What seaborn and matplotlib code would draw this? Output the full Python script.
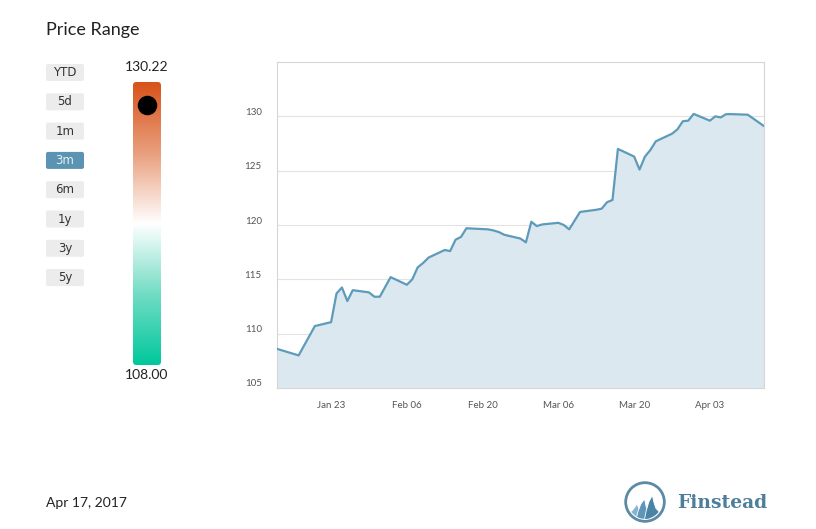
import matplotlib
matplotlib.use("Agg")
import numpy as np
import pandas as pd
import matplotlib.pyplot as plt
import matplotlib.dates as mdates
import matplotlib.transforms as mtransforms
from matplotlib.colors import LinearSegmentedColormap
from matplotlib.patches import FancyBboxPatch, Circle, Polygon
import seaborn as sns

# trading days shown in the 3m view
dates = pd.to_datetime([
    "2017-01-13", "2017-01-17", "2017-01-18", "2017-01-19", "2017-01-20",
    "2017-01-23", "2017-01-24", "2017-01-25", "2017-01-26", "2017-01-27",
    "2017-01-30", "2017-01-31", "2017-02-01", "2017-02-02", "2017-02-03",
    "2017-02-06", "2017-02-07", "2017-02-08", "2017-02-09", "2017-02-10",
    "2017-02-13", "2017-02-14", "2017-02-15", "2017-02-16", "2017-02-17",
    "2017-02-21", "2017-02-22", "2017-02-23", "2017-02-24", "2017-02-27",
    "2017-02-28", "2017-03-01", "2017-03-02", "2017-03-03", "2017-03-06",
    "2017-03-07", "2017-03-08", "2017-03-09", "2017-03-10", "2017-03-13",
    "2017-03-14", "2017-03-15", "2017-03-16", "2017-03-17", "2017-03-20",
    "2017-03-21", "2017-03-22", "2017-03-23", "2017-03-24", "2017-03-27",
    "2017-03-28", "2017-03-29", "2017-03-30", "2017-03-31", "2017-04-03",
    "2017-04-04", "2017-04-05", "2017-04-06", "2017-04-07", "2017-04-10",
    "2017-04-11", "2017-04-12", "2017-04-13",
])
prices = [
    108.6, 108.0, 108.9, 109.8, 110.7,
    111.06, 113.7, 114.25, 113.0, 114.0,
    113.8, 113.4, 113.4, 114.3, 115.2,
    114.5, 115.0, 116.1, 116.5, 117.0,
    117.7, 117.6, 118.65, 118.9, 119.7,
    119.6, 119.5, 119.35, 119.1, 118.75,
    118.4, 120.3, 119.9, 120.05, 120.2,
    120.0, 119.6, 120.4, 121.2, 121.4,
    121.5, 122.1, 122.3, 127.0, 126.3,
    125.1, 126.3, 126.9, 127.7, 128.4,
    128.8, 129.55, 129.6, 130.22, 129.6,
    130.0, 129.9, 130.2, 130.2, 130.15,
    129.8, 129.45, 129.1,
]
yticks = [105, 110, 115, 120, 125, 130]
xtick_dates = pd.to_datetime(["2017-01-23", "2017-02-06", "2017-02-20",
                              "2017-03-06", "2017-03-20", "2017-04-03"])
buttons = ["YTD", "5d", "1m", "3m", "6m", "1y", "3y", "5y"]
selected = "3m"
range_low, range_high = 108.00, 130.22
marker_value = 128.4  # where the dot sits on the range bar

df = pd.DataFrame({"date": dates, "price": prices})

sns.set_style("white")
plt.rcParams["font.family"] = ["Lato", "DejaVu Sans"]

W, H = 816, 529
fig = plt.figure(figsize=(W / 100, H / 100), dpi=100)


def px_axes(x0, y0, x1, y1):
    return fig.add_axes([x0 / W, 1 - y1 / H, (x1 - x0) / W, (y1 - y0) / H])


# main price chart
ax = px_axes(277, 62, 764, 388)
ax.fill_between(df["date"], df["price"], 105, color="#dce8ef", lw=0, zorder=1)
sns.lineplot(data=df, x="date", y="price", ax=ax, color="#5d9bba", lw=1.6, zorder=3)
ax.set_ylim(105, 135)
ax.set_xlim(df["date"].iloc[0], df["date"].iloc[-1])
ax.set_yticks(yticks)
ax.set_xticks(xtick_dates)
ax.xaxis.set_major_formatter(mdates.DateFormatter("%b %d"))
ax.set_xlabel("")
ax.set_ylabel("")
ax.grid(axis="y", color="#e3e3e3", lw=0.8, zorder=2)
for s in ax.spines.values():
    s.set_color("#d6d6d6")
    s.set_linewidth(0.8)
ax.tick_params(axis="y", length=0, pad=11, labelsize=7, labelcolor="#555555")
ax.tick_params(axis="x", length=7, width=0.8, color="#d6d6d6", direction="out",
               pad=2, labelsize=7, labelcolor="#555555")
# y labels sit a little above their grid lines
lift = mtransforms.ScaledTranslation(0, 5 / 100, fig.dpi_scale_trans)
for lab in ax.get_yticklabels():
    lab.set_transform(lab.get_transform() + lift)

# title and date
fig.text(46 / W, 1 - 30 / H, "Price Range", fontsize=13, color="#222222", va="center", ha="left")
fig.text(46 / W, 1 - 503 / H, "Apr 17, 2017", fontsize=10, color="#222222", va="center", ha="left")

# range buttons
bax = px_axes(0, 0, W, H)
bax.set_xlim(0, W)
bax.set_ylim(H, 0)
bax.axis("off")
for i, lab in enumerate(buttons):
    cy = 72.5 + i * 29.3
    sel = lab == selected
    bax.add_patch(FancyBboxPatch((46, cy - 8.5), 38, 17, boxstyle="round,pad=0,rounding_size=2",
                                 fc="#5b93b3" if sel else "#ececec", ec="none"))
    bax.text(65, cy, lab, fontsize=8.5, family="DejaVu Sans", ha="center", va="center",
             color="#e6f0f5" if sel else "#333333")

# gradient range bar
cax = px_axes(133, 82, 161, 365)
cmap = LinearSegmentedColormap.from_list(
    "rng", [(0, "#00c89c"), (0.25, "#72dcc4"), (0.5, "#ffffff"), (0.75, "#e99f7d"), (1, "#d8531a")])
grad = np.linspace(0, 1, 256).reshape(-1, 1)
im = cax.imshow(grad, aspect="auto", cmap=cmap, origin="lower",
                extent=[0, 1, range_low, range_high])
clip = FancyBboxPatch((0, range_low), 1, range_high - range_low,
                      boxstyle="round,pad=0,rounding_size=0.12", transform=cax.transData,
                      fc="none", ec="none", mutation_aspect=(range_high - range_low) / 10)
cax.add_patch(clip)
im.set_clip_path(clip)
cax.scatter([0.5], [marker_value], s=170, color="black", zorder=4)
cax.set_xlim(0, 1)
cax.set_ylim(range_low, range_high)
cax.axis("off")
fig.text(147 / W, 1 - 67 / H, f"{range_high:.2f}", fontsize=10, ha="center", va="center", color="#222222")
fig.text(147 / W, 1 - 375 / H, f"{range_low:.2f}", fontsize=10, ha="center", va="center", color="#222222")

# logo
lax = px_axes(624, 481, 666, 523)
lax.set_xlim(-1, 1)
lax.set_ylim(-1, 1)
lax.axis("off")
ring = Circle((0, 0), 0.92, fill=False, ec="#5b8aa5", lw=2)
lax.add_patch(ring)
inner = Circle((0, 0), 0.8, transform=lax.transData)
fins = [
    ([(-0.8, -0.55), (-0.6, -0.4), (-0.45, -0.2), (-0.38, -0.08), (-0.3, -0.3),
      (-0.2, -0.6), (-0.05, -0.95), (-0.8, -0.95)], "#86b4d0"),
    ([(-0.45, -0.95), (-0.35, -0.5), (-0.2, -0.1), (-0.02, 0.15), (0.05, -0.2),
      (0.15, -0.55), (0.35, -0.95)], "#5f96b8"),
    ([(-0.05, -0.95), (0.05, -0.45), (0.18, 0.0), (0.35, 0.32), (0.42, 0.0),
      (0.52, -0.3), (0.8, -0.6), (0.8, -0.95)], "#4a83a6"),
]
for pts, col in fins:
    p = Polygon(pts, closed=True, fc=col, ec="white", lw=0.6)
    lax.add_patch(p)
    p.set_clip_path(inner)
fig.text(677 / W, 1 - 503 / H, "Finstead", fontsize=13.5, weight="bold", family="DejaVu Serif",
         color="#4d7f9b", ha="left", va="center")

fig.savefig("out.png", dpi=100)
